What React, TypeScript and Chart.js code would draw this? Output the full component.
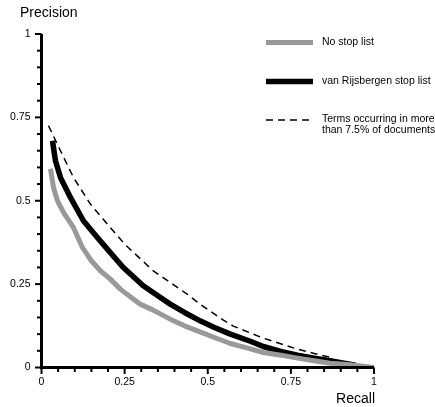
import React, { useEffect, useRef } from "react";
import { Chart, registerables } from "chart.js";

Chart.register(...registerables);

// ---- data ----
const noStopRecall = [0.027, 0.036, 0.048, 0.066, 0.096, 0.123, 0.15, 0.177, 0.207, 0.237, 0.27, 0.297, 0.336, 0.387, 0.43, 0.477, 0.52, 0.568, 0.62, 0.667, 0.72, 0.77, 0.82, 0.868, 0.92, 0.967, 1.0];
const noStopPrecision = [0.596, 0.54, 0.5, 0.465, 0.42, 0.36, 0.32, 0.29, 0.265, 0.235, 0.21, 0.19, 0.172, 0.145, 0.125, 0.107, 0.09, 0.072, 0.058, 0.045, 0.037, 0.028, 0.02, 0.013, 0.009, 0.004, 0.0];

const vanRijsRecall = [0.033, 0.042, 0.057, 0.087, 0.126, 0.168, 0.198, 0.246, 0.306, 0.35, 0.387, 0.43, 0.477, 0.52, 0.568, 0.63, 0.667, 0.72, 0.77, 0.82, 0.868, 0.91, 0.945];
const vanRijsPrecision = [0.68, 0.62, 0.57, 0.51, 0.44, 0.39, 0.355, 0.3, 0.245, 0.215, 0.19, 0.165, 0.14, 0.12, 0.1, 0.078, 0.063, 0.048, 0.037, 0.028, 0.02, 0.013, 0.007];

const termsRecall = [0.021, 0.057, 0.096, 0.147, 0.198, 0.25, 0.336, 0.438, 0.477, 0.547, 0.577, 0.667, 0.77, 0.82, 0.87];
const termsPrecision = [0.725, 0.65, 0.57, 0.49, 0.43, 0.37, 0.29, 0.22, 0.19, 0.142, 0.124, 0.088, 0.055, 0.042, 0.03];

const seriesLabels = ["No stop list", "van Rijsbergen stop list", "Terms occurring in more than 7.5% of documents"];
const legendLines = [["No stop list"], ["van Rijsbergen stop list"], ["Terms occurring in more", "than 7.5% of documents"]];

const majorTickValues = [0, 0.25, 0.5, 0.75, 1];
const majorTickLabels = ["0", "0.25", "0.5", "0.75", "1"];

const xTitle = "Recall";
const yTitle = "Precision";

const FONT = "'Liberation Sans', Arial, Helvetica, sans-serif";

function toPoints(xs: number[], ys: number[]) {
  return xs.map((x, i) => ({ x, y: ys[i] }));
}

function tickLabel(value: number): string {
  const idx = majorTickValues.findIndex((v) => Math.abs(v - value) < 1e-6);
  return idx >= 0 ? majorTickLabels[idx] : "";
}

const styles = [
  { color: "#999999", width: 5, dash: [] as number[] },
  { color: "#000000", width: 5.5, dash: [] as number[] },
  { color: "#000000", width: 1.5, dash: [7, 5] },
];

const decorPlugin = {
  id: "decor",
  afterDraw(chart: any) {
    const ctx = chart.ctx as CanvasRenderingContext2D;
    const xs = chart.scales.x;
    const ys = chart.scales.y;
    const x0 = xs.getPixelForValue(0);
    const x1 = xs.getPixelForValue(1);
    const y0 = ys.getPixelForValue(0);
    const y1 = ys.getPixelForValue(1);
    ctx.save();
    ctx.strokeStyle = "#000";
    ctx.lineCap = "butt";
    // axes
    ctx.lineWidth = 3;
    ctx.beginPath();
    ctx.moveTo(x0, y1);
    ctx.lineTo(x0, y0 + 1.5);
    ctx.moveTo(x0 - 1.5, y0);
    ctx.lineTo(x1, y0);
    ctx.stroke();
    // ticks
    ctx.lineWidth = 2;
    ys.ticks.forEach((t: any) => {
      const major = tickLabel(t.value) !== "";
      const py = ys.getPixelForValue(t.value);
      const len = major ? 5 : 3;
      ctx.beginPath();
      ctx.moveTo(x0 - 1.5 - len, py);
      ctx.lineTo(x0, py);
      ctx.stroke();
    });
    xs.ticks.forEach((t: any) => {
      const major = tickLabel(t.value) !== "";
      const px = xs.getPixelForValue(t.value);
      const len = major ? 5 : 3;
      ctx.beginPath();
      ctx.moveTo(px, y0);
      ctx.lineTo(px, y0 + 1.5 + len);
      ctx.stroke();
    });
    // titles
    ctx.fillStyle = "#000";
    ctx.font = `14px ${FONT}`;
    ctx.textBaseline = "alphabetic";
    ctx.textAlign = "left";
    ctx.fillText(yTitle, 20, 17);
    ctx.textAlign = "right";
    ctx.fillText(xTitle, x1 + 1, 403);
    // legend
    const rowY = [42.5, 81.5, 120];
    ctx.font = `10.5px ${FONT}`;
    ctx.textAlign = "left";
    ctx.textBaseline = "middle";
    legendLines.forEach((lines, i) => {
      const s = styles[i];
      ctx.strokeStyle = s.color;
      ctx.lineWidth = s.width;
      ctx.setLineDash(s.dash);
      ctx.beginPath();
      ctx.moveTo(266, rowY[i]);
      ctx.lineTo(313, rowY[i]);
      ctx.stroke();
      ctx.setLineDash([]);
      lines.forEach((txt, j) => {
        const ty = lines.length > 1 ? rowY[i] - 1 + j * 11.5 : rowY[i] - 0.5;
        ctx.fillText(txt, 322, ty);
      });
    });
    ctx.restore();
  },
};

export default function App() {
  const ref = useRef<HTMLCanvasElement | null>(null);
  useEffect(() => {
    if (!ref.current) return;
    const datasets = [
      { label: seriesLabels[0], data: toPoints(noStopRecall, noStopPrecision) },
      { label: seriesLabels[1], data: toPoints(vanRijsRecall, vanRijsPrecision) },
      { label: seriesLabels[2], data: toPoints(termsRecall, termsPrecision) },
    ].map((d, i) => ({
      ...d,
      borderColor: styles[i].color,
      borderWidth: styles[i].width,
      borderDash: styles[i].dash,
      borderJoinStyle: "round" as const,
      pointRadius: 0,
      fill: false,
      tension: 0,
    }));
    const chart = new Chart(ref.current, {
      type: "line",
      data: { datasets },
      plugins: [decorPlugin],
      options: {
        animation: false,
        responsive: true,
        maintainAspectRatio: false,
        devicePixelRatio: 1,
        layout: { padding: { left: 0, top: 34, right: 61, bottom: 0 } },
        plugins: { legend: { display: false }, tooltip: { enabled: false }, title: { display: false } },
        scales: {
          x: {
            type: "linear",
            min: 0,
            max: 1,
            grid: { display: false, drawTicks: false },
            border: { display: false },
            ticks: {
              stepSize: 0.05,
              autoSkip: false,
              maxRotation: 0,
              padding: 8,
              color: "#000",
              font: { family: FONT, size: 10.5 },
              callback: (v: any) => tickLabel(Number(v)),
            },
            afterFit: (s: any) => {
              s.height = 39.5;
            },
          },
          y: {
            type: "linear",
            min: 0,
            max: 1,
            grid: { display: false, drawTicks: false },
            border: { display: false },
            ticks: {
              stepSize: 0.05,
              autoSkip: false,
              padding: 11,
              color: "#000",
              font: { family: FONT, size: 10.5 },
              callback: (v: any) => tickLabel(Number(v)),
            },
            afterFit: (s: any) => {
              s.width = 41.5;
            },
          },
        },
      },
    });
    return () => chart.destroy();
  }, []);
  return (
    <div style={{ position: "fixed", left: 0, top: 0, width: 435, height: 407, background: "#fff" }}>
      <canvas ref={ref} />
    </div>
  );
}
